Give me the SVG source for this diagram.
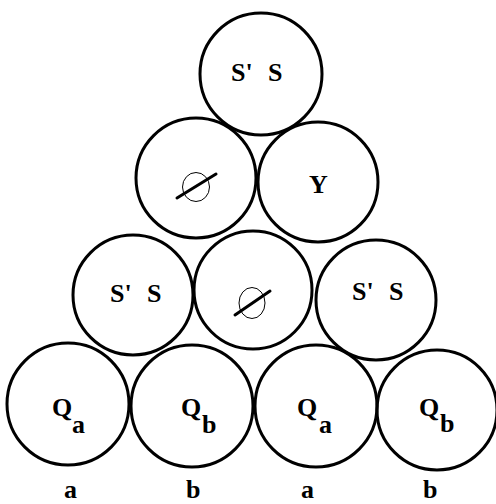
<svg xmlns="http://www.w3.org/2000/svg" width="496" height="504" viewBox="0 0 496 504">
<style>
.c{fill:none;stroke:#000;stroke-width:3}
.t{font-family:"Liberation Serif","Times New Roman",serif;font-weight:bold;font-size:26px;fill:#000}
.e{fill:none;stroke:#000;stroke-width:1}
.s{stroke:#000;stroke-width:3;stroke-linecap:round}
</style>
<rect width="496" height="504" fill="#fff"/>
<g id="n1"><circle class="c" cx="261" cy="74" r="61"/><text class="t" y="80.5"><tspan x="231">S'</tspan><tspan x="268">S</tspan></text></g>
<g id="n2"><circle class="c" cx="196" cy="178" r="60"/><ellipse class="e" cx="196" cy="187" rx="13.5" ry="14.5"/><line class="s" x1="177" y1="198" x2="216" y2="174"/></g>
<g id="n3"><circle class="c" cx="318" cy="182" r="60"/><text class="t" x="309" y="192.5">Y</text></g>
<g id="n4"><circle class="c" cx="133" cy="295" r="60"/><text class="t" y="301.5"><tspan x="110">S'</tspan><tspan x="147">S</tspan></text></g>
<g id="n5"><circle class="c" cx="253" cy="290" r="59"/><ellipse class="e" cx="252" cy="303" rx="13" ry="15.5"/><line class="s" x1="235" y1="315" x2="270" y2="291"/></g>
<g id="n6"><circle class="c" cx="376" cy="300" r="60"/><text class="t" y="299.5"><tspan x="352">S'</tspan><tspan x="389">S</tspan></text></g>
<g id="n7"><circle class="c" cx="68" cy="404" r="61"/><text class="t" x="52" y="416">Q</text><text class="t" x="72" y="433">a</text></g>
<g id="n8"><circle class="c" cx="192" cy="406" r="61"/><text class="t" x="181" y="416">Q</text><text class="t" x="202" y="433">b</text></g>
<g id="n9"><circle class="c" cx="316" cy="406" r="61"/><text class="t" x="297" y="416">Q</text><text class="t" x="319" y="433">a</text></g>
<g id="n10"><circle class="c" cx="437" cy="410" r="60"/><text class="t" x="419" y="416">Q</text><text class="t" x="440" y="432">b</text></g>
<g id="labels"><text class="t" x="64" y="497.5">a</text><text class="t" x="186" y="497.5">b</text><text class="t" x="301" y="497.5">a</text><text class="t" x="423" y="497.5">b</text></g>
<g id="connectors"></g>
</svg>
